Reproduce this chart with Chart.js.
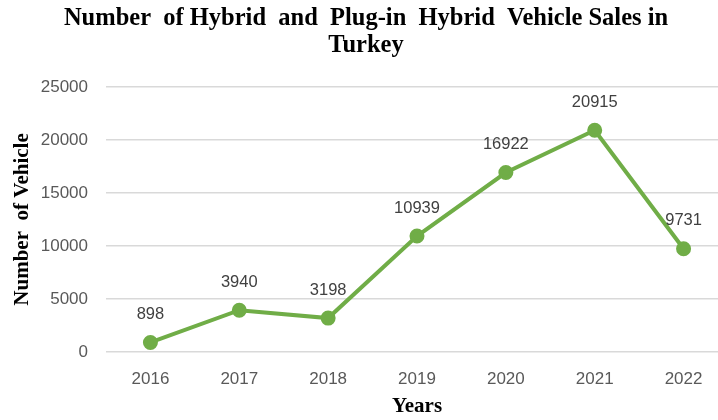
<!DOCTYPE html>
<html>
<head>
<meta charset="utf-8">
<script src="https://cdn.jsdelivr.net/npm/chart.js@4"></script>
<style>
  html, body { margin: 0; background: #fff; overflow: hidden; }
  #graphique { display: block; }
</style>
</head>
<body>
<canvas id="graphique" width="718" height="420"></canvas>
<script>
// Données
const annees = ["2016", "2017", "2018", "2019", "2020", "2021", "2022"];
const ventes = [898, 3940, 3198, 10939, 16922, 20915, 9731];
const graduationsY = [0, 5000, 10000, 15000, 20000, 25000];

const vert = "#70AD47";
const policeSans = "'Liberation Sans', Arial, sans-serif";
const policeSerif = "'Liberation Serif', 'Times New Roman', serif";

// Sur l'original la zone du graphique est coupée à droite : on l'allonge au-delà du canevas
const etendreZone = {
  id: "etendreZone",
  afterLayout(chart) {
    const x = chart.scales.x;
    x.right = 728;
    x.width = x.right - x.left;
    chart.chartArea.right = 728;
    chart.chartArea.width = 728 - chart.chartArea.left;
    x.configure();
    // le titre est légèrement décalé vers la droite
    chart.titleBlock.left += 14;
  }
};

// Étiquettes de valeurs au-dessus des points
const etiquettesValeurs = {
  id: "etiquettesValeurs",
  afterDatasetsDraw(chart) {
    const ctx = chart.ctx;
    const points = chart.getDatasetMeta(0).data;
    ctx.save();
    ctx.font = "16.5px " + policeSans;
    ctx.fillStyle = "#404040";
    ctx.textAlign = "center";
    ctx.textBaseline = "middle";
    points.forEach((p, i) => {
      ctx.fillText(String(ventes[i]), p.x, p.y - 28);
    });
    ctx.restore();
  }
};

new Chart(document.getElementById("graphique"), {
  type: "line",
  data: {
    labels: annees,
    datasets: [{
      data: ventes,
      borderColor: vert,
      backgroundColor: vert,
      borderWidth: 4,
      pointRadius: 5.5,
      pointHoverRadius: 5.5,
      tension: 0,
      clip: false
    }]
  },
  options: {
    responsive: false,
    animation: false,
    layout: { padding: 0 },
    plugins: {
      legend: { display: false },
      tooltip: { enabled: false },
      title: {
        display: true,
        text: ["Number  of Hybrid  and  Plug-in  Hybrid  Vehicle Sales in", "Turkey"],
        font: { family: policeSerif, size: 24.5, weight: "bold", lineHeight: 1.1 },
        color: "#000",
        padding: { top: 5, bottom: 28 }
      }
    },
    scales: {
      x: {
        offset: true,
        grid: { display: false, drawTicks: false },
        border: { display: false },
        ticks: {
          color: "#595959",
          font: { family: policeSans, size: 17 },
          padding: 17
        },
        title: {
          display: true,
          text: "Years",
          color: "#000",
          font: { family: policeSerif, size: 21, weight: "bold" },
          padding: { top: 0, bottom: 1 }
        },
        afterFit: s => { s.height = 68; }
      },
      y: {
        min: 0,
        max: 25000,
        afterBuildTicks: s => { s.ticks = graduationsY.map(v => ({ value: v })); },
        grid: { color: "#D9D9D9", lineWidth: 1.5, drawTicks: false },
        border: { display: false },
        ticks: {
          color: "#595959",
          font: { family: policeSans, size: 17 },
          padding: 18,
          callback: v => String(v)
        },
        title: {
          display: true,
          text: "Number  of Vehicle",
          color: "#000",
          font: { family: policeSerif, size: 21, weight: "bold" },
          padding: { top: 10, bottom: 0 }
        },
        afterFit: s => { s.width = 106; }
      }
    }
  },
  plugins: [etendreZone, etiquettesValeurs]
});
</script>
</body>
</html>
